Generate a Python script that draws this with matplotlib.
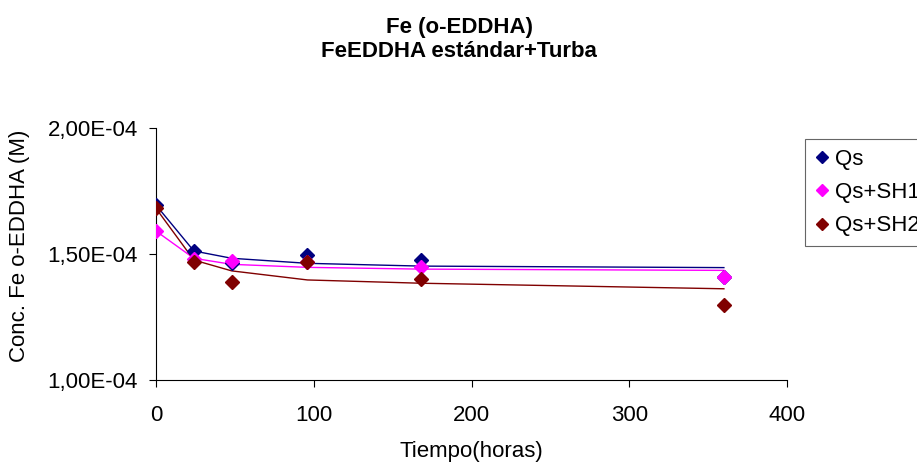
import numpy as np
import matplotlib
matplotlib.use("Agg")
import matplotlib.pyplot as plt
from matplotlib.ticker import FuncFormatter

plt.rcParams['font.family'] = ['Liberation Sans', 'DejaVu Sans']

tiempo = [0, 24, 48, 96, 168, 360]

# measured values (M)
qs = [1.694e-4, 1.512e-4, 1.463e-4, 1.496e-4, 1.476e-4, 1.41e-4]
qs_sh1 = [1.591e-4, 1.48e-4, 1.473e-4, 1.47e-4, 1.45e-4, 1.41e-4]
qs_sh2 = [1.681e-4, 1.47e-4, 1.388e-4, 1.47e-4, 1.40e-4, 1.298e-4]

# fitted curves
fit_qs = [1.694e-4, 1.512e-4, 1.483e-4, 1.463e-4, 1.452e-4, 1.446e-4]
fit_sh1 = [1.591e-4, 1.483e-4, 1.459e-4, 1.447e-4, 1.44e-4, 1.435e-4]
fit_sh2 = [1.681e-4, 1.476e-4, 1.433e-4, 1.397e-4, 1.384e-4, 1.362e-4]

labels = ['Qs', 'Qs+SH1', 'Qs+SH2']
colors = ['#000080', '#FF00FF', '#800000']

W, H = 917, 463
fig = plt.figure(figsize=(W / 100, H / 100), dpi=100)
ax = fig.add_axes([156 / W, 1 - 380 / H, (787 - 156) / W, (380 - 128) / H])

for y, f, c, lab in zip([qs, qs_sh1, qs_sh2], [fit_qs, fit_sh1, fit_sh2], colors, labels):
    ax.plot(tiempo, f, color=c, lw=1.0, zorder=2)
    ax.plot(tiempo, y, ls='none', marker='D', ms=7.5, color=c, label=lab, zorder=3)

ax.set_xlim(0, 400)
ax.set_ylim(1.0e-4, 2.0e-4)
ax.set_xticks([0, 100, 200, 300, 400])
ax.set_yticks([1.0e-4, 1.5e-4, 2.0e-4])
ax.yaxis.set_major_formatter(FuncFormatter(lambda v, p: ('%.2E' % v).replace('.', ',')))
ax.spines['top'].set_visible(False)
ax.spines['right'].set_visible(False)
ax.spines['left'].set_linewidth(0.8)
ax.spines['bottom'].set_linewidth(0.8)
ax.tick_params(axis='both', direction='out', length=5, width=0.8, labelsize=16)
ax.tick_params(axis='x', pad=13)
ax.tick_params(axis='y', pad=8)

# axis titles placed in figure pixels
fig.text(471 / W, 1 - 452 / H, 'Tiempo(horas)', ha='center', va='center', fontsize=16)
fig.text(20 / W, 1 - 246 / H, 'Conc. Fe o-EDDHA (M)', ha='center', va='center',
         rotation=90, fontsize=16)

fig.text(459 / W, 1 - 33 / H, 'Fe (o-EDDHA)', ha='center', va='baseline',
         fontsize=16, fontweight='bold')
fig.text(459 / W, 1 - 57 / H, 'FeEDDHA estándar+Turba', ha='center', va='baseline',
         fontsize=16, fontweight='bold')

leg = fig.legend(loc='upper left', bbox_to_anchor=(805 / W, 1 - 139 / H), fontsize=16,
                 frameon=True, fancybox=False, edgecolor='#404040', borderpad=0.45,
                 handlelength=0.6, handletextpad=0.3, labelspacing=0.55, markerscale=0.75,
                 borderaxespad=0)
leg.get_frame().set_linewidth(0.8)

fig.savefig('out.png', dpi=100)
